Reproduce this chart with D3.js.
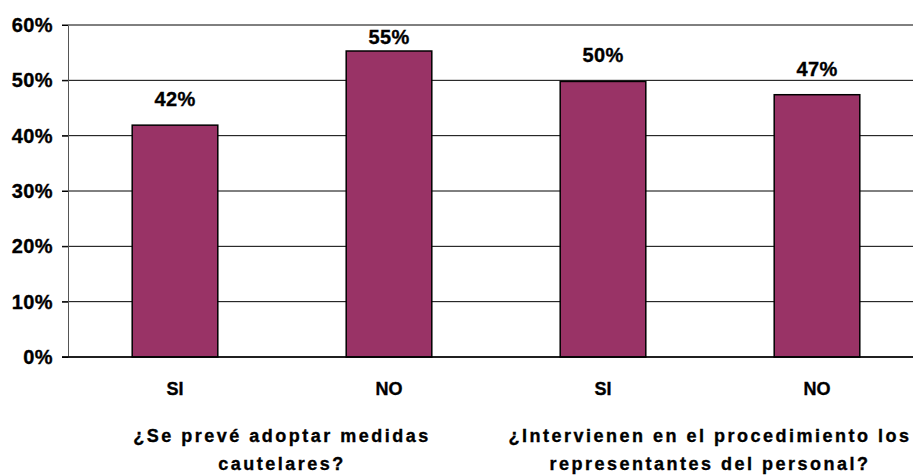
<!DOCTYPE html>
<html>
<head>
<meta charset="utf-8">
<script src="https://cdn.jsdelivr.net/npm/d3@7"></script>
<style>
  body { margin: 0; background: #fff; }
  text { font-family: "Liberation Sans", Arial, sans-serif; font-weight: bold; fill: #000; stroke: #000; stroke-width: 0.35px; }
</style>
</head>
<body>
<div id="vis"></div>
<script>
const categories = ["SI", "NO", "SI", "NO"];
const values = [41.9, 55.3, 49.8, 47.4];
const valueLabels = ["42%", "55%", "50%", "47%"];
const groupLabels = [
  ["¿Se prevé adoptar medidas", "cautelares?"],
  ["¿Intervienen en el procedimiento los", "representantes del personal?"]
];
const yTicks = [0, 10, 20, 30, 40, 50, 60];

const width = 913;
const height = 476;
const margin = {left: 68, top: 25, right: -11, bottom: 119};

const svg = d3.select("#vis")
        .append("svg")
        .attr("width", width)
        .attr("height", height);

const x = d3.scaleBand()
        .domain(d3.range(values.length))
        .range([margin.left, width - margin.right])
        .paddingInner(0.6)
        .paddingOuter(0.3);

const y = d3.scaleLinear()
        .domain([0, 60])
        .range([height - margin.bottom, margin.top]);

// gridlines
svg.append("g")
        .selectAll("line")
        .data(yTicks)
        .join("line")
        .attr("x1", margin.left - 6)
        .attr("x2", width)
        .attr("y1", d => y(d))
        .attr("y2", d => y(d))
        .attr("stroke", "#000")
        .attr("stroke-width", 1);

// y axis
const yAxis = d3.axisLeft(y)
        .tickValues(yTicks)
        .tickFormat(d => d + "%")
        .tickSizeInner(6)
        .tickSizeOuter(0)
        .tickPadding(9);

svg.append("g")
        .attr("transform", "translate(" + margin.left + ",0)")
        .call(yAxis)
        .call(g => g.select(".domain").attr("stroke", "#555"))
        .call(g => g.selectAll("text")
                .attr("font-size", 20)
                .attr("font-family", "Liberation Sans, Arial, sans-serif")
                .attr("font-weight", "bold")
                .attr("letter-spacing", 0.4)
                .attr("fill", "#000"));

// bars
svg.append("g")
        .selectAll("rect")
        .data(values)
        .join("rect")
        .attr("x", (d, i) => x(i))
        .attr("y", d => y(d))
        .attr("width", x.bandwidth())
        .attr("height", d => y(0) - y(d))
        .attr("fill", "#993366")
        .attr("stroke", "#000")
        .attr("stroke-width", 1.5);

// value labels (kept inside the plot area, like Excel does)
svg.append("g")
        .selectAll("text")
        .data(values)
        .join("text")
        .attr("x", (d, i) => x(i) + x.bandwidth() / 2)
        .attr("y", d => Math.max(y(d) - 19, y(60) + 19))
        .attr("text-anchor", "middle")
        .attr("font-size", 20)
        .attr("letter-spacing", 0.4)
        .text((d, i) => valueLabels[i]);

// baseline
svg.append("line")
        .attr("x1", margin.left - 6)
        .attr("x2", width)
        .attr("y1", y(0))
        .attr("y2", y(0))
        .attr("stroke", "#000")
        .attr("stroke-width", 1.5);

// category labels
svg.append("g")
        .selectAll("text")
        .data(categories)
        .join("text")
        .attr("x", (d, i) => x(i) + x.bandwidth() / 2)
        .attr("y", y(0) + 38)
        .attr("text-anchor", "middle")
        .attr("font-size", 18)
        .text(d => d);

// group labels
const groupG = svg.append("g")
        .selectAll("text")
        .data(groupLabels)
        .join("text")
        .attr("text-anchor", "middle")
        .attr("font-size", 18)
        .attr("letter-spacing", 2.5);

groupG.each(function(lines, gi) {
  const cx = (x(gi * 2) + x(gi * 2 + 1) + x.bandwidth()) / 2;
  d3.select(this).selectAll("tspan")
          .data(lines)
          .join("tspan")
          .attr("x", cx)
          .attr("y", (d, i) => y(0) + 85 + i * 28)
          .text(d => d);
});
</script>
</body>
</html>
